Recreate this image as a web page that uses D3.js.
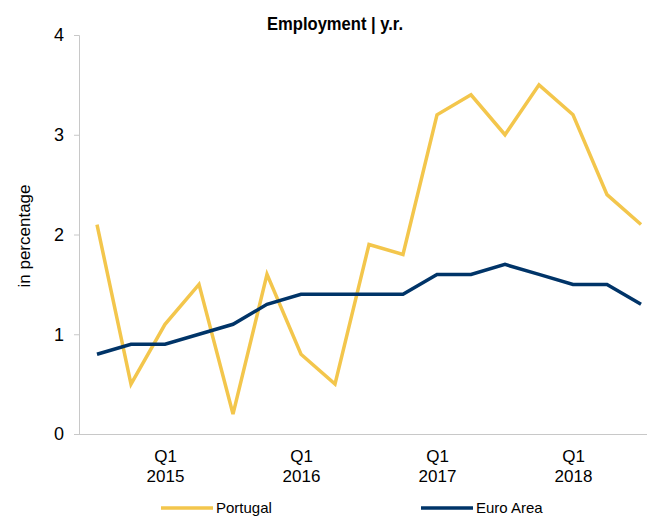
<!DOCTYPE html>
<html><head><meta charset="utf-8">
<script src="https://cdn.jsdelivr.net/npm/d3@7"></script>
<style>
html,body{margin:0;padding:0;background:#fff;}
svg{display:block;font-family:"Liberation Sans",Arial,sans-serif;}
</style></head>
<body>
<svg id="chart" width="647" height="517"></svg>
<script>
const categories = ["Q3 2014","Q4 2014","Q1 2015","Q2 2015","Q3 2015","Q4 2015","Q1 2016","Q2 2016","Q3 2016","Q4 2016","Q1 2017","Q2 2017","Q3 2017","Q4 2017","Q1 2018","Q2 2018","Q3 2018"];
const portugal = [2.1,0.5,1.1,1.5,0.2,1.6,0.8,0.5,1.9,1.8,3.2,3.4,3.0,3.5,3.2,2.4,2.1];
const euroArea = [0.8,0.9,0.9,1.0,1.1,1.3,1.4,1.4,1.4,1.4,1.6,1.6,1.7,1.6,1.5,1.5,1.3];
const yTicks = [0,1,2,3,4];
const xTickCats = ["Q1 2015","Q1 2016","Q1 2017","Q1 2018"];
const seriesNames = ["Portugal","Euro Area"];
const colors = ["#F3C64C","#003468"];
const title = "Employment | y.r.";
const yLabel = "in percentage";

const svg = d3.select("#chart");
const x = d3.scalePoint().domain(categories).range([97,641]);
const y = d3.scaleLinear().domain([0,4]).range([434,35]);

// title
svg.append("text").attr("x",335).attr("y",30).attr("text-anchor","middle")
  .attr("textLength",136).attr("lengthAdjust","spacingAndGlyphs")
  .style("font-weight","bold").style("font-size","18px").attr("fill","#000").text(title);

// y axis
const yAxis = svg.append("g").attr("transform","translate(79,0)")
  .call(d3.axisLeft(y).tickValues(yTicks).tickSize(5).tickPadding(10).tickFormat(d3.format("d")));
yAxis.select(".domain").attr("stroke","#c8c8c8");
yAxis.selectAll(".tick line").attr("stroke","#c8c8c8");
yAxis.selectAll(".tick text").style("font-size","18px").attr("fill","#000").style("font-family","'Liberation Sans',Arial,sans-serif");

// x axis line
const xAxis = svg.append("g").attr("transform","translate(0,434)")
  .call(d3.axisBottom(x).tickValues(xTickCats).tickSize(0).tickPadding(0).tickFormat(""));
xAxis.select(".domain").attr("d","M79,0.5H647").attr("stroke","#c8c8c8");
xAxis.selectAll(".tick").each(function(d){
  const parts = d.split(" ");
  const t = d3.select(this).append("text").attr("fill","#000").attr("text-anchor","middle")
    .style("font-size","17px");
  t.append("tspan").attr("x",0).attr("y",28).text(parts[0]);
  t.append("tspan").attr("x",0).attr("y",48).text(parts[1]);
});

// y label
svg.append("text").attr("transform","translate(30,236) rotate(-90)").attr("text-anchor","middle")
  .style("font-size","17px").attr("fill","#000").text(yLabel);

// lines
const line = d3.line().x((d,i)=>x(categories[i])).y(d=>y(d));
[portugal, euroArea].forEach((s,i)=>{
  svg.append("path").datum(s).attr("d",line).attr("fill","none")
    .attr("stroke",colors[i]).attr("stroke-width",3.5).attr("stroke-linejoin","miter");
});

// legend
const legX = [161,421];
seriesNames.forEach((n,i)=>{
  svg.append("line").attr("x1",legX[i]).attr("x2",legX[i]+52).attr("y1",508).attr("y2",508)
    .attr("stroke",colors[i]).attr("stroke-width",3.5);
  svg.append("text").attr("x",legX[i]+55).attr("y",513).style("font-size","15px").attr("fill","#000").text(n);
});
</script>
</body></html>
